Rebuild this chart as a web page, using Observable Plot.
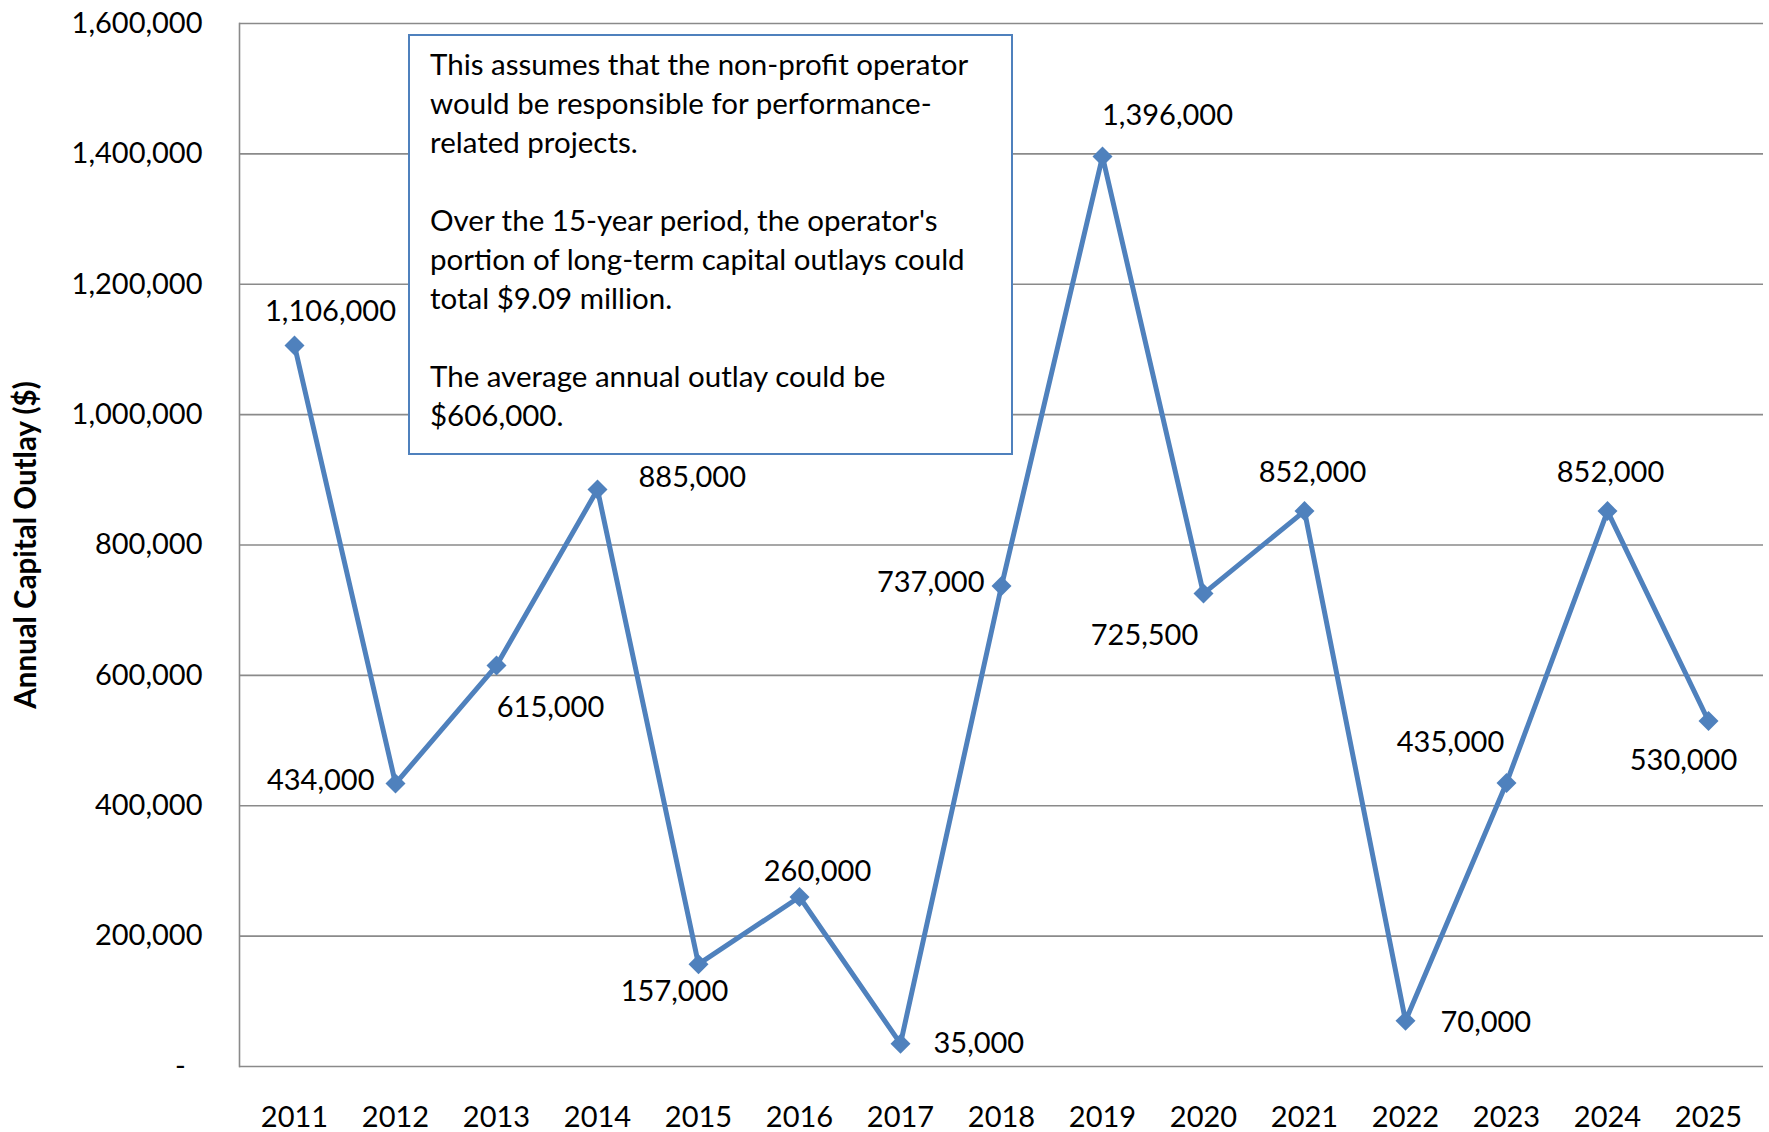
<!DOCTYPE html>
<html>
<head>
<meta charset="utf-8">
<script src="https://cdn.jsdelivr.net/npm/d3@7"></script>
<script src="https://cdn.jsdelivr.net/npm/@observablehq/plot@0.6"></script>
<style>
  html, body { margin: 0; padding: 0; background: #fff; }
  #wrap { position: relative; width: 1769px; height: 1132px; font-family: Lato, "Open Sans", sans-serif; }
  #note {
    position: absolute; left: 408px; top: 34px; width: 601px; height: 417px;
    border: 2px solid #4F81BD; background: #fff; box-sizing: content-box;
    font-family: Lato, sans-serif; font-size: 29.5px; line-height: 39px; color: #000;
    padding: 0; white-space: pre-line;
  }
  #note .inner { position: absolute; left: 20px; top: 8px; }
</style>
</head>
<body>
<div id="wrap"></div>
<script>
const years = ["2011","2012","2013","2014","2015","2016","2017","2018","2019","2020","2021","2022","2023","2024","2025"];
const outlays = [1106000, 434000, 615000, 885000, 157000, 260000, 35000, 737000, 1396000, 725500, 852000, 70000, 435000, 852000, 530000];
const yTicks = [0, 200000, 400000, 600000, 800000, 1000000, 1200000, 1400000, 1600000];
const yTitle = "Annual Capital Outlay ($)";
const noteLines = [
  "This assumes that the non-profit operator",
  "would be responsible for performance-",
  "related projects.",
  "",
  "Over the 15-year period, the operator's",
  "portion of long-term capital outlays could",
  "total $9.09 million.",
  "",
  "The average annual outlay could be",
  "$606,000."
];
// label placement per point: [textAnchor, dx, dy]
const labelPlacement = [
  ["middle", 36, -34], ["end", -21, -3], ["middle", 54, 42], ["start", 41, -12],
  ["middle", -24, 28], ["middle", 18, -25], ["start", 33, 0], ["end", -17, -3],
  ["middle", 65, -41], ["middle", -59, 42], ["middle", 8, -38], ["start", 35, 2],
  ["middle", -56, -40], ["middle", 3, -38], ["middle", -25, 40]
];

const data = years.map((y, i) => ({year: y, value: outlays[i]}));
const fmt = d3.format(",");
const blue = "#4F81BD";
const grid = "#8a8a8a";
const FS = 29;

const labelMarks = data.map((d, i) => Plot.text([d], {
  x: "year", y: "value", text: d => fmt(d.value),
  textAnchor: labelPlacement[i][0], dx: labelPlacement[i][1], dy: labelPlacement[i][2],
  fontSize: FS, fill: "#000"
}));

const chart = Plot.plot({
  width: 1769, height: 1132,
  marginLeft: 239, marginRight: 6, marginTop: 23, marginBottom: 66,
  style: {fontFamily: "Lato, 'Open Sans', sans-serif", fontSize: FS + "px", color: "#000", background: "#fff"},
  x: {type: "point", domain: years, padding: 0.5, label: null},
  y: {domain: [0, 1600000], label: null},
  marks: [
    Plot.ruleY(yTicks, {stroke: grid, strokeWidth: 1.6}),
    Plot.frame({anchor: "left", stroke: grid, strokeWidth: 1.6}),
    Plot.axisY({ticks: yTicks, tickSize: 0, tickPadding: 37, label: null, fontSize: FS,
      tickFormat: d => d === 0 ? "-\u2007" : fmt(d)}),
    Plot.axisX({tickSize: 0, tickPadding: 40, label: null, fontSize: FS}),
    Plot.text([yTitle], {frameAnchor: "left", textAnchor: "middle", dx: -213, rotate: -90, fontWeight: "bold", fontSize: 29.5, fill: "#000"}),
    Plot.line(data, {x: "year", y: "value", stroke: blue, strokeWidth: 5, strokeLinejoin: "miter"}),
    Plot.dot(data, {x: "year", y: "value", symbol: "diamond2", r: 9, fill: blue, stroke: "none"}),
    ...labelMarks
  ]
});

const wrap = document.getElementById("wrap");
wrap.appendChild(chart);
const note = document.createElement("div");
note.id = "note";
const inner = document.createElement("div");
inner.className = "inner";
inner.textContent = noteLines.map(l => l === "" ? "\u00a0" : l).join("\n");
note.appendChild(inner);
wrap.appendChild(note);
</script>
</body>
</html>
